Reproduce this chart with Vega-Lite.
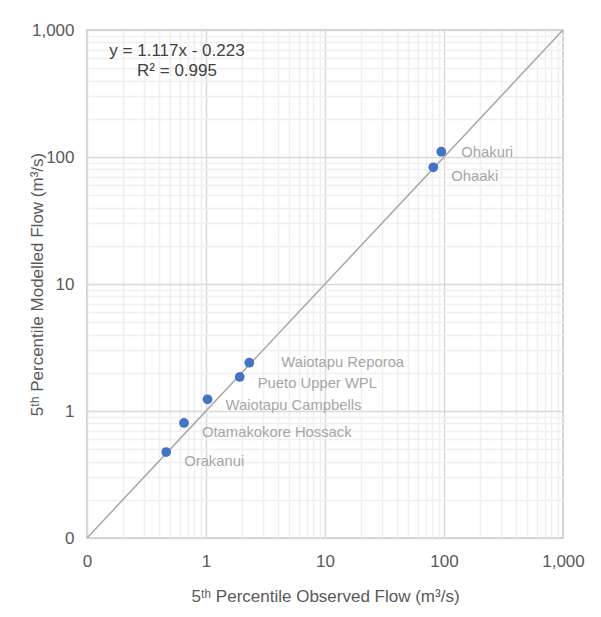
{
  "$schema": "https://vega.github.io/schema/vega-lite/v6.json",
  "width": 476,
  "height": 508,
  "autosize": {"type": "none"},
  "padding": {"left": 87, "top": 30, "right": 38, "bottom": 79},
  "background": "white",
  "config": {
    "font": "Liberation Sans",
    "view": {"stroke": "#bfbfbf", "strokeWidth": 1.5, "fill": "white"}
  },
  "title": {
    "text": ["y = 1.117x - 0.223", "R² = 0.995"],
    "anchor": "start",
    "frame": "group",
    "align": "center",
    "dx": 90,
    "offset": -59,
    "baseline": "top",
    "fontSize": 17,
    "fontWeight": "normal",
    "color": "#404040",
    "lineHeight": 20
  },
  "datasets": {
    "diag": [{"x": 0.1, "y": 0.1}, {"x": 1000, "y": 1000}],
    "sites": [
      {"site": "Orakanui", "observed": 0.463, "modelled": 0.475},
      {"site": "Otamakokore Hossack", "observed": 0.653, "modelled": 0.805},
      {"site": "Waiotapu Campbells", "observed": 1.03, "modelled": 1.236},
      {"site": "Pueto Upper WPL", "observed": 1.92, "modelled": 1.853},
      {"site": "Waiotapu Reporoa", "observed": 2.31, "modelled": 2.4},
      {"site": "Ohaaki", "observed": 81.3, "modelled": 83.0},
      {"site": "Ohakuri", "observed": 94.9, "modelled": 110}
    ]
  },
  "layer": [
    {
      "data": {"name": "diag"},
      "mark": {"type": "line", "color": "#a6a6a6", "strokeWidth": 1.5, "clip": true},
      "encoding": {
        "x": {"field": "x", "type": "quantitative",
          "scale": {"type": "log", "domain": [0.1, 1000], "nice": false},
          "axis": {"orient": "bottom", "values": [0.2,0.3,0.4,0.5,0.6,0.7,0.8,0.9,2,3,4,5,6,7,8,9,20,30,40,50,60,70,80,90,200,300,400,500,600,700,800,900],
            "grid": true, "gridColor": "#f0f0f0", "gridWidth": 1.5, "labels": false, "ticks": false, "domain": false, "title": null}},
        "y": {"field": "y", "type": "quantitative",
          "scale": {"type": "log", "domain": [0.1, 1000], "nice": false},
          "axis": {"orient": "left", "values": [0.2,0.3,0.4,0.5,0.6,0.7,0.8,0.9,2,3,4,5,6,7,8,9,20,30,40,50,60,70,80,90,200,300,400,500,600,700,800,900],
            "grid": true, "gridColor": "#f0f0f0", "gridWidth": 1.5, "labels": false, "ticks": false, "domain": false, "title": null}}
      }
    },
    {
      "data": {"name": "sites"},
      "mark": {"type": "circle", "size": 95, "color": "#4472C4", "opacity": 1},
      "encoding": {
        "x": {"field": "observed", "type": "quantitative",
          "scale": {"type": "log", "domain": [0.1, 1000], "nice": false},
          "axis": {"orient": "bottom", "values": [0.1, 1, 10, 100, 1000], "format": ",.0f",
            "grid": true, "gridColor": "#d9d9d9", "gridWidth": 1.5, "domain": false, "ticks": false,
            "labelFlush": false, "labelPadding": 15, "labelFontSize": 17, "labelColor": "#595959",
            "title": "5ᵗʰ Percentile Observed Flow (m³/s)", "titleFontSize": 17, "titleFontWeight": "normal",
            "titleColor": "#595959", "titlePadding": 19}},
        "y": {"field": "modelled", "type": "quantitative",
          "scale": {"type": "log", "domain": [0.1, 1000], "nice": false},
          "axis": {"orient": "left", "values": [0.1, 1, 10, 100, 1000], "format": ",.0f",
            "grid": true, "gridColor": "#d9d9d9", "gridWidth": 1.5, "domain": false, "ticks": false,
            "labelFlush": false, "labelPadding": 13, "labelFontSize": 17, "labelColor": "#595959",
            "title": "5ᵗʰ Percentile Modelled Flow (m³/s)", "titleFontSize": 17, "titleFontWeight": "normal",
            "titleColor": "#595959", "titlePadding": -15}}
      }
    },
    {
      "data": {"name": "sites"},
      "transform": [{"filter": {"field": "site", "oneOf": ["Orakanui", "Otamakokore Hossack", "Ohaaki"]}}],
      "mark": {"type": "text", "align": "left", "baseline": "middle", "dx": 18, "dy": 10, "fontSize": 14.8, "color": "#a6a6a6"},
      "encoding": {
        "x": {"field": "observed", "type": "quantitative", "scale": {"type": "log", "domain": [0.1, 1000], "nice": false}, "axis": null},
        "y": {"field": "modelled", "type": "quantitative", "scale": {"type": "log", "domain": [0.1, 1000], "nice": false}, "axis": null},
        "text": {"field": "site"}
      }
    },
    {
      "data": {"name": "sites"},
      "transform": [{"filter": {"field": "site", "oneOf": ["Waiotapu Campbells", "Pueto Upper WPL"]}}],
      "mark": {"type": "text", "align": "left", "baseline": "middle", "dx": 18, "dy": 7, "fontSize": 14.8, "color": "#a6a6a6"},
      "encoding": {
        "x": {"field": "observed", "type": "quantitative", "scale": {"type": "log", "domain": [0.1, 1000], "nice": false}, "axis": null},
        "y": {"field": "modelled", "type": "quantitative", "scale": {"type": "log", "domain": [0.1, 1000], "nice": false}, "axis": null},
        "text": {"field": "site"}
      }
    },
    {
      "data": {"name": "sites"},
      "transform": [{"filter": {"field": "site", "equal": "Waiotapu Reporoa"}}],
      "mark": {"type": "text", "align": "left", "baseline": "middle", "dx": 32, "dy": 0, "fontSize": 14.8, "color": "#a6a6a6"},
      "encoding": {
        "x": {"field": "observed", "type": "quantitative", "scale": {"type": "log", "domain": [0.1, 1000], "nice": false}, "axis": null},
        "y": {"field": "modelled", "type": "quantitative", "scale": {"type": "log", "domain": [0.1, 1000], "nice": false}, "axis": null},
        "text": {"field": "site"}
      }
    },
    {
      "data": {"name": "sites"},
      "transform": [{"filter": {"field": "site", "equal": "Ohakuri"}}],
      "mark": {"type": "text", "align": "left", "baseline": "middle", "dx": 20, "dy": 1, "fontSize": 14.8, "color": "#a6a6a6"},
      "encoding": {
        "x": {"field": "observed", "type": "quantitative", "scale": {"type": "log", "domain": [0.1, 1000], "nice": false}, "axis": null},
        "y": {"field": "modelled", "type": "quantitative", "scale": {"type": "log", "domain": [0.1, 1000], "nice": false}, "axis": null},
        "text": {"field": "site"}
      }
    }
  ],
  "resolve": {"axis": {"x": "independent", "y": "independent"}}
}
